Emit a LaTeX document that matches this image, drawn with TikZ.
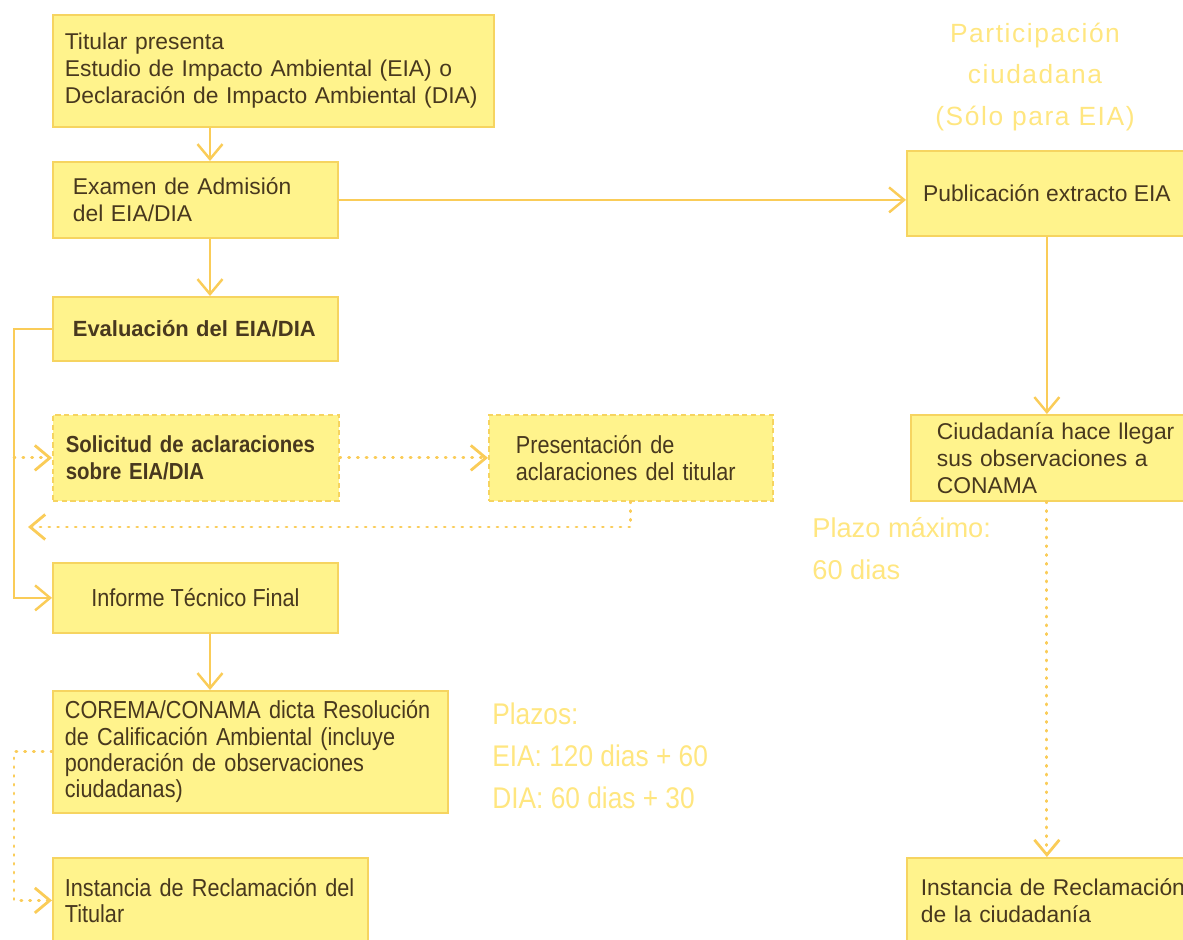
\documentclass[tikz,border=0pt]{standalone}
\usepackage{fontspec}
\setmainfont{Liberation Sans}
\newfontfamily\estrecha[FakeStretch=0.88]{Liberation Sans}
\newfontfamily\espaciada[LetterSpace=6]{Liberation Sans}
\usepackage{xcolor}
\usepackage{tikz}
\usetikzlibrary{arrows.meta,calc}
\definecolor{CajaRelleno}{RGB}{255,243,140}
\definecolor{CajaBorde}{RGB}{246,212,96}
\definecolor{Flecha}{RGB}{250,204,88}
\definecolor{NotaClara}{RGB}{255,230,128}
\definecolor{Texto}{RGB}{72,56,30}
\tikzset{
    caja/.style={draw=CajaBorde, fill=CajaRelleno, line width=1pt, anchor=north west, align=left, text=Texto, inner ysep=0pt, font=\fontsize{13}{15.4}\selectfont},
    cajaestrecha/.style={caja, font=\estrecha\fontsize{14}{15}\selectfont},
    cajapunteada/.style={cajaestrecha, dash pattern=on 3pt off 2pt},
    linea/.style={draw=Flecha, line width=1.4pt},
    flecha/.style={linea, -{Straight Barb[length=3mm,width=5mm]}},
    flechapunto/.style={flecha, line width=1.6pt, line cap=round, dash pattern=on 0.6pt off 4.4pt},
    nota/.style={text=NotaClara, anchor=west, align=left, inner xsep=0pt}
}

\begin{document}
\begin{tikzpicture}
        \useasboundingbox (0,0) rectangle (23.66,-18.78);

        % --- COLUMNA IZQUIERDA: TRAMITE ---
        \node[caja, text width=8.34cm, inner xsep=0.24cm, minimum height=2.24cm] (titular) at (1.04,-0.28)
            {Titular presenta\\Estudio de Impacto Ambiental (EIA) o\\Declaración de Impacto Ambiental (DIA)};
        \node[caja, text width=4.90cm, inner xsep=0.4cm, minimum height=1.52cm] (examen) at (1.04,-3.22)
            {Examen de Admisión\\del EIA/DIA};
        \node[caja, text width=4.90cm, inner xsep=0.4cm, minimum height=1.28cm, font=\bfseries\fontsize{12.5}{15}\selectfont] (evaluacion) at (1.04,-5.92)
            {Evaluación del EIA/DIA};
        \node[cajapunteada, text width=5.20cm, inner xsep=0.26cm, minimum height=1.72cm, font=\estrecha\bfseries\fontsize{13.2}{15}\selectfont] (solicitud) at (1.04,-8.28)
            {Solicitud de aclaraciones\\sobre EIA/DIA};
        \node[cajapunteada, text width=4.60cm, inner xsep=0.54cm, minimum height=1.72cm] (presentacion) at (9.76,-8.28)
            {Presentación de\\aclaraciones del titular};
        \node[cajaestrecha, align=center, minimum width=5.70cm, minimum height=1.40cm] (informe) at (1.04,-11.24)
            {Informe Técnico Final};
        \node[cajaestrecha, text width=7.42cm, inner xsep=0.24cm, minimum height=2.44cm] (corema) at (1.04,-13.80)
            {COREMA/CONAMA dicta Resolución\\de Calificación Ambiental (incluye\\ponderación de observaciones\\ciudadanas)};
        \node[cajaestrecha, text width=5.82cm, inner xsep=0.24cm, minimum height=1.70cm] (reclamo) at (1.04,-17.14)
            {Instancia de Reclamación del\\Titular};

        % --- COLUMNA DERECHA: PARTICIPACION CIUDADANA ---
        \node[caja, align=center, minimum width=5.60cm, minimum height=1.70cm] (publicacion) at (18.12,-3.00)
            {Publicación extracto EIA};
        \node[caja, text width=4.90cm, inner xsep=0.52cm, minimum height=1.72cm] (ciudadania) at (18.20,-8.28)
            {Ciudadanía hace llegar\\sus observaciones a\\CONAMA};
        \node[caja, text width=5.60cm, inner xsep=0.28cm, minimum height=1.70cm] (reclamociud) at (18.12,-17.14)
            {Instancia de Reclamación\\de la ciudadanía};

        % --- NOTAS ---
        \node[nota, anchor=center, align=center, font=\espaciada\fontsize{15}{23.5}\selectfont] (participacion) at (20.7,-1.54)
            {Participación\\ciudadana\\(Sólo para EIA)};
        \node[nota, font=\fontsize{15.5}{24}\selectfont] (plazomax) at (16.24,-10.98)
            {Plazo máximo:\\60 dias};
        \node[nota, font=\estrecha\fontsize{17}{24}\selectfont] (plazos) at (9.84,-15.12)
            {Plazos:\\EIA: 120 dias + 60\\DIA: 60 dias + 30};

        % --- CONECTORES ---
        \coordinate (eje) at (4.2,0);
        \coordinate (izq) at (0.28,0);
        \coordinate (retorno) at (0.56,-10.54);

        \draw[flecha] (titular.south -| eje) -- (examen.north -| eje);
        \draw[flecha] (examen.south -| eje) -- (evaluacion.north -| eje);
        \draw[flecha] (informe.south -| eje) -- (corema.north -| eje);
        \draw[flecha] (examen.east) -- (examen.east -| publicacion.west);
        \draw[flecha] (publicacion.south) -- (publicacion.south |- ciudadania.north);
        \draw[flecha] (evaluacion.west) -- (evaluacion.west -| izq) |- (informe.west);
        \draw[flechapunto] (solicitud.west -| izq) -- (solicitud.west);
        \draw[flechapunto] (solicitud.east) -- (presentacion.west);
        \draw[flechapunto] (presentacion.south) |- (retorno);
        \draw[flechapunto] (corema.west) -- (corema.west -| izq) |- (reclamo.west);
        \draw[flechapunto] (publicacion.south |- ciudadania.south) -- (publicacion.south |- reclamociud.north);

    \end{tikzpicture}
\end{document}
